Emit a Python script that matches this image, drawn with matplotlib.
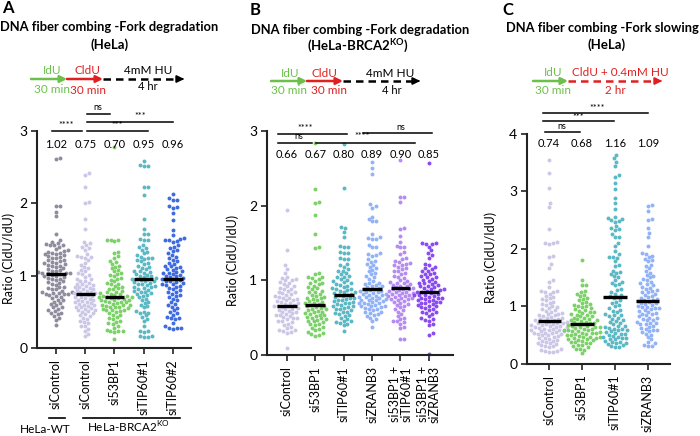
import numpy as np
import matplotlib
matplotlib.use("Agg")
import matplotlib.pyplot as plt
from matplotlib.lines import Line2D
from matplotlib.patches import FancyArrowPatch

plt.rcParams['font.family'] = ['Lato', 'DejaVu Sans']
plt.rcParams['mathtext.fontset'] = 'custom'
plt.rcParams['mathtext.rm'] = 'Lato'
plt.rcParams['mathtext.bf'] = 'Lato:bold'

W, H = 700, 436

## ---- data (CldU/IdU ratios per fiber) ----
# panel A : HeLa-WT siControl, then HeLa-BRCA2KO groups
a_labels = ['siControl', 'siControl', 'si53BP1', 'siTIP60#1', 'siTIP60#2']
a_medians = [1.02, 0.75, 0.70, 0.95, 0.96]
a_wt_ctrl = [2.62, 2.61, 1.97, 1.96, 1.88, 1.82, 1.58, 1.49, 1.47, 1.45, 1.44, 1.43, 1.42, 1.42, 1.40,
             1.37, 1.35, 1.34, 1.33, 1.32, 1.31, 1.30, 1.30, 1.28, 1.27, 1.26, 1.25, 1.24, 1.22, 1.21, 1.20,
             1.19, 1.18, 1.17, 1.16, 1.15, 1.14, 1.13, 1.12, 1.11, 1.09, 1.08, 1.07, 1.06, 1.05, 1.04, 1.04,
             1.03, 1.03, 1.02, 1.01, 1.00, 0.99, 0.98, 0.97, 0.96, 0.95, 0.94, 0.92, 0.91, 0.90, 0.88, 0.87,
             0.85, 0.84, 0.83, 0.82, 0.81, 0.79, 0.78, 0.77, 0.76, 0.76, 0.75, 0.75, 0.74, 0.73, 0.72, 0.71,
             0.69, 0.67, 0.66, 0.64, 0.62, 0.61, 0.59, 0.57, 0.56, 0.54, 0.52, 0.51, 0.49, 0.48, 0.47, 0.44,
             0.42, 0.39, 0.32]
a_ko_ctrl = [2.42, 2.39, 2.23, 2.02, 2.01, 1.79, 1.65, 1.47, 1.45, 1.42, 1.40, 1.38, 1.36, 1.30, 1.27,
             1.26, 1.26, 1.25, 1.22, 1.18, 1.15, 1.12, 1.10, 1.08, 1.06, 1.04, 1.02, 1.01, 0.98, 0.96, 0.95,
             0.93, 0.92, 0.90, 0.89, 0.88, 0.87, 0.86, 0.85, 0.84, 0.83, 0.82, 0.81, 0.80, 0.79, 0.78, 0.77,
             0.76, 0.76, 0.75, 0.74, 0.73, 0.72, 0.71, 0.70, 0.69, 0.68, 0.67, 0.66, 0.65, 0.64, 0.63, 0.62,
             0.61, 0.60, 0.59, 0.58, 0.57, 0.56, 0.55, 0.54, 0.53, 0.52, 0.51, 0.50, 0.48, 0.47, 0.45, 0.44,
             0.42, 0.40, 0.38, 0.36, 0.34, 0.31, 0.30, 0.26, 0.23, 0.20, 0.16]
a_ko_53bp1 = [2.78, 1.50, 1.50, 1.49, 1.48, 1.33, 1.31, 1.27, 1.25, 1.20, 1.19, 1.16, 1.14, 1.12, 1.10,
              1.08, 1.06, 1.04, 1.02, 1.01, 0.99, 0.97, 0.96, 0.94, 0.92, 0.90, 0.89, 0.88, 0.86, 0.85,
              0.83, 0.82, 0.81, 0.79, 0.78, 0.77, 0.76, 0.75, 0.74, 0.73, 0.72, 0.72, 0.71, 0.70, 0.70,
              0.69, 0.69, 0.68, 0.67, 0.66, 0.66, 0.65, 0.64, 0.63, 0.63, 0.62, 0.61, 0.60, 0.60, 0.59,
              0.58, 0.57, 0.57, 0.56, 0.55, 0.54, 0.53, 0.52, 0.52, 0.51, 0.50, 0.48, 0.46, 0.45, 0.43,
              0.41, 0.40, 0.38, 0.36, 0.34, 0.33, 0.31, 0.28, 0.25, 0.24, 0.23, 0.23, 0.22, 0.12]
a_ko_tip1 = [2.58, 2.53, 2.52, 2.51, 2.23, 2.22, 2.11, 1.78, 1.65, 1.58, 1.57, 1.51, 1.50, 1.49, 1.42,
             1.40, 1.38, 1.36, 1.33, 1.31, 1.28, 1.26, 1.25, 1.24, 1.23, 1.21, 1.20, 1.18, 1.16, 1.14,
             1.12, 1.11, 1.09, 1.07, 1.06, 1.05, 1.04, 1.02, 1.01, 1.00, 0.99, 0.98, 0.97, 0.96, 0.95,
             0.95, 0.94, 0.93, 0.92, 0.91, 0.90, 0.89, 0.88, 0.87, 0.86, 0.85, 0.84, 0.83, 0.82, 0.80,
             0.79, 0.78, 0.77, 0.76, 0.75, 0.73, 0.72, 0.70, 0.68, 0.66, 0.64, 0.62, 0.60, 0.58, 0.56,
             0.51, 0.50, 0.49, 0.48, 0.45, 0.43, 0.40, 0.38, 0.30, 0.24, 0.23, 0.22, 0.17, 0.16, 0.15, 0.15]
a_ko_tip2 = [2.13, 2.07, 2.05, 2.04, 1.97, 1.95, 1.94, 1.86, 1.77, 1.63, 1.56, 1.52, 1.51, 1.50, 1.49,
             1.48, 1.47, 1.42, 1.40, 1.38, 1.35, 1.34, 1.31, 1.28, 1.26, 1.24, 1.22, 1.20, 1.18, 1.16,
             1.14, 1.13, 1.12, 1.11, 1.09, 1.08, 1.06, 1.05, 1.04, 1.03, 1.02, 1.01, 1.00, 0.99, 0.98,
             0.97, 0.96, 0.95, 0.94, 0.93, 0.92, 0.91, 0.90, 0.89, 0.88, 0.87, 0.86, 0.85, 0.83, 0.82,
             0.80, 0.78, 0.77, 0.75, 0.73, 0.72, 0.70, 0.68, 0.66, 0.63, 0.61, 0.59, 0.57, 0.55, 0.52,
             0.50, 0.48, 0.46, 0.43, 0.42, 0.41, 0.40, 0.35, 0.30, 0.28, 0.27, 0.27, 0.26]

# panel B : HeLa-BRCA2KO
b_labels = ['siControl', 'si53BP1', 'siTIP60#1', 'siZRANB3', 'si53BP1 +\nsiTIP60#1', 'si53BP1 +\nsiZRANB3']
b_medians = [0.66, 0.67, 0.80, 0.89, 0.90, 0.85]
b_ctrl = [1.94, 1.40, 1.20, 1.15, 1.10, 1.05, 1.03, 1.02, 1.01, 1.00, 0.98, 0.97, 0.95, 0.93, 0.92,
          0.90, 0.89, 0.88, 0.86, 0.85, 0.84, 0.83, 0.82, 0.81, 0.79, 0.78, 0.77, 0.76, 0.75, 0.74,
          0.73, 0.72, 0.71, 0.70, 0.69, 0.68, 0.67, 0.66, 0.66, 0.65, 0.64, 0.63, 0.62, 0.61, 0.60,
          0.59, 0.58, 0.57, 0.56, 0.55, 0.54, 0.53, 0.52, 0.51, 0.50, 0.49, 0.48, 0.46, 0.45, 0.44,
          0.42, 0.40, 0.38, 0.36, 0.34, 0.33, 0.32, 0.31, 0.30, 0.10]
b_53bp1 = [2.84, 2.22, 2.05, 2.03, 1.87, 1.62, 1.44, 1.43, 1.10, 1.09, 1.05, 1.04, 1.03, 1.02, 0.99,
           0.97, 0.96, 0.95, 0.93, 0.91, 0.90, 0.88, 0.86, 0.85, 0.84, 0.82, 0.81, 0.79, 0.78, 0.77,
           0.76, 0.75, 0.73, 0.72, 0.71, 0.70, 0.69, 0.68, 0.67, 0.66, 0.65, 0.64, 0.63, 0.62, 0.61,
           0.60, 0.59, 0.58, 0.57, 0.56, 0.55, 0.54, 0.53, 0.52, 0.51, 0.50, 0.49, 0.48, 0.47, 0.46,
           0.45, 0.44, 0.42, 0.41, 0.40, 0.38, 0.36, 0.35, 0.33, 0.31, 0.30, 0.28, 0.27, 0.26]
b_tip1 = [2.82, 2.23, 1.71, 1.70, 1.65, 1.58, 1.46, 1.45, 1.44, 1.38, 1.37, 1.36, 1.30, 1.29, 1.28,
          1.22, 1.20, 1.18, 1.15, 1.13, 1.12, 1.10, 1.08, 1.06, 1.05, 1.04, 1.02, 1.01, 0.99, 0.98,
          0.96, 0.95, 0.94, 0.93, 0.91, 0.90, 0.89, 0.88, 0.87, 0.86, 0.85, 0.84, 0.83, 0.82, 0.81,
          0.80, 0.79, 0.78, 0.77, 0.76, 0.75, 0.74, 0.73, 0.72, 0.71, 0.70, 0.69, 0.68, 0.67, 0.66,
          0.65, 0.64, 0.63, 0.62, 0.61, 0.60, 0.58, 0.57, 0.56, 0.55, 0.53, 0.52, 0.50, 0.48, 0.46,
          0.45, 0.44, 0.43, 0.42, 0.40, 0.32]
b_zranb3 = [2.58, 2.50, 2.43, 2.02, 2.00, 1.97, 1.85, 1.82, 1.80, 1.79, 1.62, 1.58, 1.57, 1.56, 1.55,
            1.47, 1.45, 1.44, 1.36, 1.35, 1.34, 1.33, 1.28, 1.26, 1.24, 1.22, 1.20, 1.18, 1.16, 1.14,
            1.12, 1.10, 1.08, 1.06, 1.04, 1.02, 0.99, 0.97, 0.96, 0.95, 0.94, 0.93, 0.92, 0.91, 0.90,
            0.89, 0.88, 0.87, 0.86, 0.86, 0.85, 0.84, 0.83, 0.82, 0.82, 0.81, 0.80, 0.79, 0.78, 0.78,
            0.77, 0.76, 0.75, 0.74, 0.74, 0.73, 0.72, 0.71, 0.70, 0.70, 0.69, 0.68, 0.67, 0.66, 0.66,
            0.65, 0.64, 0.63, 0.62, 0.61, 0.60, 0.58, 0.57, 0.56, 0.55, 0.53, 0.52, 0.50, 0.48, 0.45, 0.38]
b_53_tip = [2.61, 2.12, 2.11, 2.05, 1.70, 1.69, 1.60, 1.52, 1.46, 1.45, 1.44, 1.38, 1.35, 1.30, 1.28,
            1.26, 1.25, 1.23, 1.22, 1.21, 1.20, 1.18, 1.16, 1.15, 1.13, 1.12, 1.10, 1.08, 1.06, 1.05,
            1.03, 1.01, 0.99, 0.98, 0.97, 0.96, 0.95, 0.94, 0.93, 0.92, 0.91, 0.90, 0.89, 0.88, 0.88,
            0.87, 0.86, 0.85, 0.84, 0.83, 0.83, 0.82, 0.81, 0.80, 0.79, 0.79, 0.78, 0.77, 0.76, 0.75,
            0.75, 0.74, 0.72, 0.71, 0.70, 0.68, 0.67, 0.66, 0.64, 0.62, 0.60, 0.58, 0.55, 0.52, 0.50,
            0.48, 0.46, 0.45, 0.44, 0.42, 0.38, 0.36, 0.22, 0.21]
b_53_zr = [2.57, 1.50, 1.50, 1.49, 1.48, 1.45, 1.40, 1.36, 1.34, 1.30, 1.22, 1.20, 1.18, 1.16, 1.15,
           1.13, 1.12, 1.10, 1.09, 1.08, 1.06, 1.05, 1.04, 1.02, 1.01, 0.99, 0.98, 0.97, 0.96, 0.95,
           0.94, 0.93, 0.92, 0.91, 0.90, 0.89, 0.88, 0.87, 0.86, 0.85, 0.85, 0.84, 0.83, 0.82, 0.81,
           0.80, 0.80, 0.79, 0.78, 0.77, 0.76, 0.76, 0.75, 0.74, 0.73, 0.72, 0.71, 0.71, 0.70, 0.69,
           0.68, 0.67, 0.66, 0.65, 0.64, 0.63, 0.62, 0.60, 0.58, 0.57, 0.56, 0.55, 0.52, 0.50, 0.48,
           0.47, 0.46, 0.42, 0.40, 0.29, 0.27, 0.02]

# panel C : HeLa, fork slowing
c_labels = ['siControl', 'si53BP1', 'siTIP60#1', 'siZRANB3']
c_medians = [0.74, 0.68, 1.16, 1.09]
c_ctrl = [3.55, 3.32, 3.06, 2.80, 2.73, 2.35, 2.11, 2.10, 2.10, 2.09, 1.88, 1.86, 1.73, 1.67, 1.45,
          1.42, 1.34, 1.27, 1.26, 1.25, 1.24, 1.22, 1.18, 1.16, 1.14, 1.12, 1.10, 1.08, 1.06, 1.04,
          1.02, 1.01, 0.99, 0.97, 0.95, 0.93, 0.92, 0.90, 0.88, 0.87, 0.86, 0.85, 0.84, 0.82, 0.81,
          0.80, 0.79, 0.78, 0.77, 0.76, 0.75, 0.74, 0.73, 0.72, 0.71, 0.71, 0.70, 0.69, 0.68, 0.67,
          0.67, 0.66, 0.65, 0.64, 0.63, 0.63, 0.62, 0.61, 0.60, 0.59, 0.58, 0.58, 0.57, 0.56, 0.55,
          0.54, 0.54, 0.53, 0.52, 0.51, 0.50, 0.49, 0.48, 0.46, 0.45, 0.44, 0.43, 0.41, 0.40, 0.39,
          0.38, 0.36, 0.35, 0.34, 0.32, 0.31, 0.30, 0.28, 0.26, 0.24, 0.22, 0.21, 0.20, 0.20]
c_53bp1 = [1.81, 1.45, 1.37, 1.36, 1.27, 1.25, 1.22, 1.20, 1.18, 1.15, 1.13, 1.10, 1.08, 1.06, 1.04,
           1.02, 1.01, 1.00, 0.98, 0.96, 0.95, 0.93, 0.92, 0.90, 0.89, 0.88, 0.86, 0.85, 0.84, 0.83,
           0.82, 0.80, 0.79, 0.78, 0.77, 0.76, 0.75, 0.74, 0.73, 0.72, 0.71, 0.70, 0.69, 0.68, 0.67,
           0.66, 0.65, 0.64, 0.64, 0.63, 0.62, 0.61, 0.60, 0.59, 0.59, 0.58, 0.57, 0.56, 0.55, 0.54,
           0.53, 0.53, 0.52, 0.51, 0.50, 0.49, 0.48, 0.47, 0.47, 0.46, 0.45, 0.44, 0.43, 0.42, 0.41,
           0.41, 0.40, 0.38, 0.37, 0.36, 0.35, 0.33, 0.32, 0.30, 0.28, 0.26, 0.25, 0.24, 0.18]
c_tip1 = [3.64, 3.58, 3.52, 3.45, 3.28, 3.25, 3.15, 3.05, 2.88, 2.80, 2.70, 2.55, 2.53, 2.52, 2.50,
          2.48, 2.47, 2.40, 2.36, 2.35, 2.33, 2.25, 2.21, 2.20, 2.10, 2.05, 1.96, 1.90, 1.86, 1.85,
          1.84, 1.78, 1.72, 1.70, 1.62, 1.60, 1.58, 1.56, 1.52, 1.50, 1.45, 1.42, 1.40, 1.38, 1.36,
          1.30, 1.28, 1.25, 1.22, 1.20, 1.18, 1.16, 1.14, 1.10, 1.08, 1.05, 1.02, 1.00, 0.96, 0.94,
          0.92, 0.90, 0.86, 0.85, 0.84, 0.82, 0.80, 0.78, 0.75, 0.74, 0.72, 0.70, 0.68, 0.66, 0.65,
          0.63, 0.62, 0.61, 0.60, 0.58, 0.58, 0.56, 0.55, 0.54, 0.52, 0.52, 0.50, 0.48, 0.47, 0.46,
          0.45, 0.44, 0.43, 0.42, 0.40, 0.38, 0.37, 0.36, 0.35, 0.34, 0.32, 0.30, 0.29, 0.28]
c_zranb3 = [2.77, 2.75, 2.65, 2.52, 2.50, 2.36, 2.28, 2.21, 2.05, 1.92, 1.90, 1.88, 1.85, 1.82, 1.80,
            1.78, 1.72, 1.70, 1.66, 1.62, 1.58, 1.55, 1.52, 1.50, 1.48, 1.45, 1.42, 1.40, 1.38, 1.36,
            1.34, 1.32, 1.30, 1.28, 1.26, 1.25, 1.24, 1.22, 1.20, 1.18, 1.16, 1.14, 1.12, 1.11, 1.10,
            1.09, 1.08, 1.06, 1.05, 1.04, 1.02, 1.00, 0.99, 0.98, 0.97, 0.96, 0.95, 0.93, 0.92, 0.90,
            0.88, 0.87, 0.86, 0.84, 0.82, 0.80, 0.79, 0.78, 0.76, 0.75, 0.73, 0.71, 0.70, 0.69, 0.68,
            0.66, 0.64, 0.62, 0.60, 0.59, 0.58, 0.56, 0.55, 0.52, 0.50, 0.46, 0.42, 0.38, 0.35, 0.32,
            0.30, 0.30]

GRAY = '#8f8c9e'
LAV = '#cbc7e6'
GREEN = '#7dd16a'
TEAL = '#5bb8c4'
BLUE = '#3e6be0'
LBLUE = '#93b3f7'
LPURP = '#b58cf0'
PURP = '#8a4cf0'
IDU_GREEN = '#6cc04a'
CLDU_RED = '#e02020'


def fx(X):
    return X / W


def fy(Y):
    return 1 - Y / H


def ftext(X, Y, s, **kw):
    kw.setdefault('ha', 'center')
    kw.setdefault('va', 'center')
    fig.text(fx(X), fy(Y), s, **kw)


def swarm(ax, xc, vals, color, d=4.1, s=8):
    # simple beeswarm: offsets in pixels so dots do not overlap
    vals = np.asarray(vals, float)
    pts = ax.transData.transform(np.column_stack([np.full(len(vals), xc), vals]))
    ys = pts[:, 1]
    offs = np.zeros(len(vals))
    placed = []
    for i in np.argsort(ys):
        y = ys[i]
        near = [(px, py) for px, py in placed if abs(py - y) < d]
        cands = [0.0]
        for px, py in near:
            dx = np.sqrt(d * d - (py - y) ** 2)
            cands += [px + dx, px - dx]
        cands.sort(key=abs)
        for c in cands:
            if all((c - px) ** 2 + (y - py) ** 2 >= d * d - 1e-6 for px, py in near):
                offs[i] = c
                break
        placed.append((offs[i], y))
    xy = ax.transData.inverted().transform(np.column_stack([pts[:, 0] + offs, ys]))
    ax.scatter(xy[:, 0], xy[:, 1], s=s, color=color, linewidths=0, zorder=2, clip_on=False)


def panel(ax, groups, colors, medians, labels, ylim, yticks, xlim, ylab_x, ylab_y, med_y, hw):
    ax.set_xlim(*xlim)
    ax.set_ylim(*ylim)
    for sp in ['top', 'right']:
        ax.spines[sp].set_visible(False)
    for sp in ['left', 'bottom']:
        ax.spines[sp].set_linewidth(1.5)
        ax.spines[sp].set_color('#222222')
    for i, (g, c) in enumerate(zip(groups, colors)):
        swarm(ax, i, g, c)
        ax.hlines(medians[i], i - hw, i + hw, color='black', lw=2.4, zorder=3)
        ax.text(i, med_y, '%.2f' % medians[i], ha='center', va='center', fontsize=8)
    ax.set_yticks(yticks)
    ax.set_xticks(range(len(groups)))
    ax.set_xticklabels(labels, rotation=90, fontsize=9, multialignment='right', linespacing=0.95)
    ax.tick_params(axis='both', length=4, width=1.2, color='#222222', pad=3)
    ax.tick_params(axis='y', labelsize=10)
    ax.tick_params(axis='x', pad=4)
    ax.set_ylabel('Ratio (CldU/IdU)', fontsize=9)
    ax.yaxis.set_label_coords(ylab_x, ylab_y)


def sig(ax, x1, x2, y, label, tx, dy):
    ax.plot([x1, x2], [y, y], color='black', lw=1.1, clip_on=False)
    ax.text(tx, y + dy, label, ha='center', va='center', fontsize=6.5, clip_on=False)


def arrow(X1, X2, Y, color, dashed=False):
    if dashed:
        fig.add_artist(Line2D([fx(X1), fx(X2 - 7)], [fy(Y), fy(Y)], color=color, lw=1.8,
                              linestyle=(0, (3, 2))))
        fig.add_artist(FancyArrowPatch((fx(X2 - 8), fy(Y)), (fx(X2), fy(Y)), transform=fig.transFigure,
                                       arrowstyle='-|>', mutation_scale=10, lw=1.5, color=color))
    else:
        fig.add_artist(FancyArrowPatch((fx(X1), fy(Y)), (fx(X2), fy(Y)), transform=fig.transFigure,
                                       arrowstyle='-|>', mutation_scale=10, lw=1.8, color=color,
                                       shrinkA=0, shrinkB=0))


fig = plt.figure(figsize=(7, 4.36), dpi=100)

## ---- panel A ----
axA = fig.add_axes([fx(37), fy(348), (191 - 37) / W, (348 - 131) / H])
panel(axA, [a_wt_ctrl, a_ko_ctrl, a_ko_53bp1, a_ko_tip1, a_ko_tip2],
      [GRAY, LAV, GREEN, TEAL, BLUE], a_medians, a_labels,
      (0, 3), [0, 1, 2, 3], (-0.65, 4.62), -0.14, 0.415, 2.82, 0.33)
sig(axA, -0.14, 0.88, 3.0, '****', 0.34, 0.07)
sig(axA, 1.05, 1.85, 3.24, 'ns', 1.42, 0.08)
sig(axA, 1.05, 4.0, 3.13, '***', 2.87, 0.07)
sig(axA, 1.05, 3.15, 3.0, '***', 2.1, 0.07)

ftext(8, 8, 'A', fontsize=12, fontweight='bold')
ftext(109, 27, 'DNA fiber combing -Fork degradation', fontsize=9.3, fontweight='bold')
ftext(110, 45, '(HeLa)', fontsize=9.5, fontweight='bold')
arrow(31, 67, 79, IDU_GREEN)
arrow(67, 103, 79, CLDU_RED)
arrow(103, 187, 79, 'black', dashed=True)
ftext(52, 71, 'IdU', fontsize=8.5, color=IDU_GREEN)
ftext(52, 89, '30 min', fontsize=8.5, color=IDU_GREEN)
ftext(87, 71, 'CldU', fontsize=8.5, color=CLDU_RED)
ftext(88, 90, '30 min', fontsize=8.5, color=CLDU_RED)
ftext(148, 71, '4mM HU', fontsize=8.5)
ftext(148, 87, '4 hr', fontsize=8)
fig.add_artist(Line2D([fx(49), fx(65)], [fy(418), fy(418)], color='black', lw=1.2))
fig.add_artist(Line2D([fx(83), fx(180)], [fy(418), fy(418)], color='black', lw=1.2))
ftext(45, 429, 'HeLa-WT', fontsize=8.5)
ftext(128, 427, 'HeLa-BRCA2$^{\\mathregular{KO}}$', fontsize=8.5)

## ---- panel B ----
axB = fig.add_axes([fx(267), fy(355), (453 - 267) / W, (355 - 131) / H])
panel(axB, [b_ctrl, b_53bp1, b_tip1, b_zranb3, b_53_tip, b_53_zr],
      [LAV, GREEN, TEAL, LBLUE, LPURP, PURP], b_medians, b_labels,
      (0, 3), [0, 1, 2, 3], (-0.70, 5.85), -0.15, 0.424, 2.69, 0.35)
sig(axB, -0.32, 2.11, 2.96, '****', 0.63, 0.08)
sig(axB, -0.32, 0.88, 2.84, 'ns', 0.42, 0.08)
sig(axB, 2.68, 5.10, 2.97, 'ns', 4.0, 0.08)
sig(axB, 1.02, 4.50, 2.84, '****', 2.64, 0.08)

ftext(255, 10, 'B', fontsize=12, fontweight='bold')
ftext(360, 30, 'DNA fiber combing -Fork degradation', fontsize=9.3, fontweight='bold')
ftext(358, 46, '(HeLa-BRCA2$^{\\mathbf{KO}}$)', fontsize=9.5, fontweight='bold')
arrow(271, 307, 81, IDU_GREEN)
arrow(307, 343, 81, CLDU_RED)
arrow(343, 423, 81, 'black', dashed=True)
ftext(290, 73, 'IdU', fontsize=8.5, color=IDU_GREEN)
ftext(289, 90, '30 min', fontsize=8.5, color=IDU_GREEN)
ftext(324, 73, 'CldU', fontsize=8.5, color=CLDU_RED)
ftext(329, 91, '30 min', fontsize=8.5, color=CLDU_RED)
ftext(390, 73, '4mM HU', fontsize=8.5)
ftext(392, 90, '4 hr', fontsize=8)

## ---- panel C ----
axC = fig.add_axes([fx(527), fy(363.5), (670 - 527) / W, (363.5 - 134) / H])
panel(axC, [c_ctrl, c_53bp1, c_tip1, c_zranb3],
      [LAV, GREEN, TEAL, LBLUE], c_medians, c_labels,
      (0, 4), [0, 1, 2, 3, 4], (-0.67, 3.67), -0.21, 0.46, 3.83, 0.35)
sig(axC, -0.18, 3.0, 4.37, '****', 1.45, 0.08)
sig(axC, -0.18, 1.97, 4.22, '***', 0.88, 0.07)
sig(axC, -0.12, 0.94, 4.03, 'ns', 0.39, 0.1)

ftext(508, 10, 'C', fontsize=12, fontweight='bold')
ftext(602, 28, 'DNA fiber combing -Fork slowing', fontsize=9.3, fontweight='bold')
ftext(607, 45, '(HeLa)', fontsize=9.5, fontweight='bold')
arrow(533, 568, 81, IDU_GREEN)
arrow(568, 665, 81, CLDU_RED, dashed=True)
ftext(553, 72, 'IdU', fontsize=8.5, color=IDU_GREEN)
ftext(553, 90, '30 min', fontsize=8.5, color=IDU_GREEN)
ftext(620, 72, 'CldU + 0.4mM HU', fontsize=8.5, color=CLDU_RED)
ftext(615, 90, '2 hr', fontsize=8.5, color=CLDU_RED)

fig.savefig('out.png', dpi=100)
